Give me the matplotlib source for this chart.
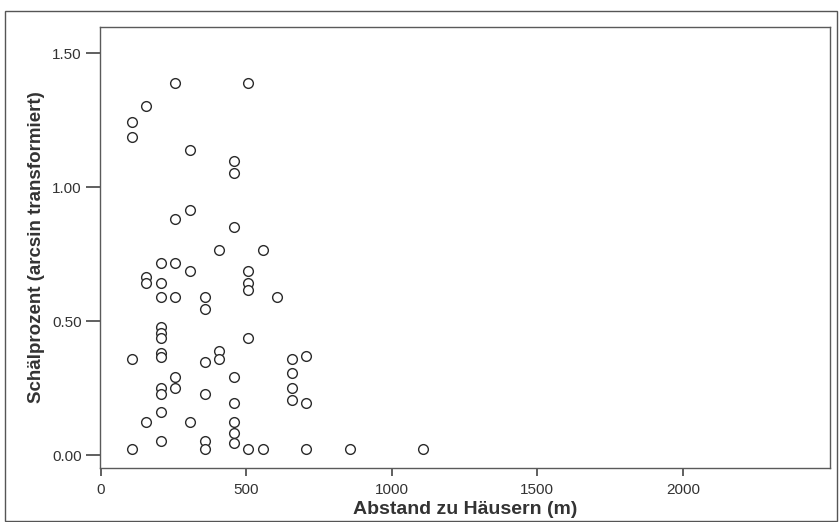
import matplotlib
matplotlib.use("Agg")
import matplotlib.pyplot as plt
from matplotlib.patches import Rectangle

plt.rcParams['font.family'] = ['Liberation Sans', 'DejaVu Sans']

# Distance to houses (m) and peeling percentage (arcsin transformed)
abstand = [
    257, 507, 157, 107, 107, 307, 457, 457,
    307, 257, 457, 407, 557, 207, 257, 307, 507, 157, 157, 207, 507, 507,
    207, 257, 357, 607, 357, 207, 207, 207, 507,
    107, 207, 207, 357, 407, 407, 257, 257, 457, 207, 207, 357, 457, 207,
    157, 307, 457, 457, 457, 207, 357, 357, 107, 507, 557,
    657, 707, 657, 657, 657, 707, 707, 857, 1107,
]
schaelprozent = [
    1.390, 1.390, 1.304, 1.243, 1.189, 1.140, 1.098, 1.054,
    0.914, 0.883, 0.853, 0.766, 0.766, 0.717, 0.717, 0.687, 0.687, 0.666, 0.641, 0.641, 0.643, 0.616,
    0.591, 0.591, 0.591, 0.591, 0.544, 0.477, 0.457, 0.437, 0.436,
    0.358, 0.382, 0.367, 0.346, 0.388, 0.358, 0.292, 0.251, 0.292, 0.251, 0.227, 0.227, 0.194, 0.162,
    0.122, 0.122, 0.122, 0.081, 0.044, 0.053, 0.053, 0.022, 0.022, 0.022, 0.022,
    0.358, 0.370, 0.305, 0.251, 0.205, 0.194, 0.022, 0.022, 0.022,
]
x_ticks = [0, 500, 1000, 1500, 2000]
y_ticks = [0.0, 0.5, 1.0, 1.5]
y_ticklabels = ["0.00", "0.50", "1.00", "1.50"]

W, H = 840, 522
fig = plt.figure(figsize=(W / 100, H / 100), dpi=100)
ax = fig.add_axes([100 / W, 1 - 468 / H, 730 / W, 441 / H])

ax.plot(abstand, schaelprozent, linestyle='none', marker='o', markersize=7.0,
        markerfacecolor='white', markeredgecolor='#2a2a2a', markeredgewidth=1.0)

ax.set_xlim(-2, 2505)
ax.set_ylim(-0.0485, 1.598)
ax.set_xticks(x_ticks)
ax.set_xticklabels([str(t) for t in x_ticks])
ax.set_yticks(y_ticks)
ax.set_yticklabels(y_ticklabels)

spine_col = '#5a5a5a'
for s in ax.spines.values():
    s.set_color(spine_col)
    s.set_linewidth(1.0)

ax.tick_params(axis='x', direction='out', length=5.5, width=1.2, color='#444444',
               labelsize=11, labelcolor='#333333', pad=5)
ax.tick_params(axis='y', direction='out', length=10, width=1.2, color='#444444',
               labelsize=11, labelcolor='#333333', pad=3)

ax.set_xlabel('Abstand zu Häusern (m)', fontsize=14, fontweight='bold',
              color='#333333', labelpad=3)
ax.set_ylabel('Schälprozent (arcsin transformiert)', fontsize=13.5, fontweight='bold',
              color='#333333', labelpad=5)

# outer frame around the figure
fig.patches.append(Rectangle((5 / W, 1 - 521 / H), 832 / W, 510 / H,
                             transform=fig.transFigure, fill=False,
                             edgecolor='#555555', linewidth=1.0))

fig.savefig('out.png', dpi=100, facecolor='white')
